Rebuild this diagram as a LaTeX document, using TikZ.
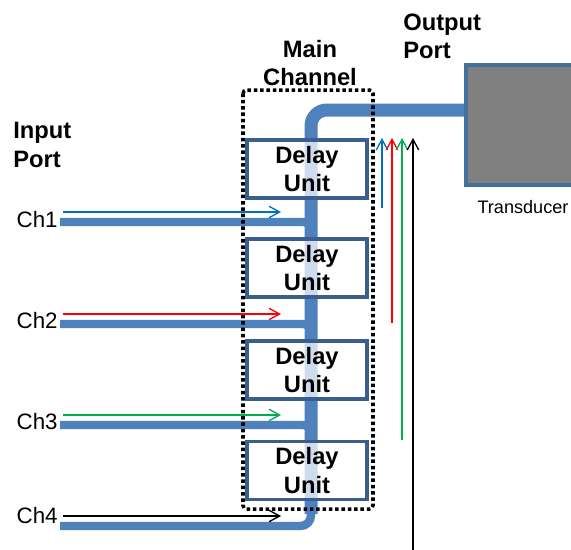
\documentclass[tikz,border=0pt]{standalone}
\usepackage{fontspec}
\setmainfont{Liberation Sans}
\usetikzlibrary{arrows.meta}
\definecolor{pipeblue}{RGB}{79,129,189}
\definecolor{boxblue}{RGB}{58,95,140}
\definecolor{tdgray}{RGB}{128,128,128}
\definecolor{tdblue}{RGB}{65,113,156}
\definecolor{sigblue}{RGB}{0,112,192}
\definecolor{sigred}{RGB}{255,0,0}
\definecolor{siggreen}{RGB}{0,176,80}

\tikzset{
  pipe/.style={draw=pipeblue, line width=4.8pt, rounded corners=4.5pt},
  mainpipe/.style={draw=pipeblue, line width=7.4pt, rounded corners=9pt},
  delaybox/.style={draw=boxblue, line width=2pt, fill=white, fill opacity=0.72,
    text opacity=1, minimum width=2.4cm, minimum height=1.16cm, align=center,
    font=\fontsize{13.5}{16}\selectfont\bfseries},
  tdbox/.style={draw=tdblue, line width=2pt, fill=tdgray,
    minimum width=2.28cm, minimum height=2.4cm},
  portlabel/.style={inner sep=0pt, align=left, font=\fontsize{13.5}{16}\selectfont\bfseries},
  chlabel/.style={inner sep=0pt, anchor=east, font=\fontsize{12.7}{15}\selectfont},
  sig/.style={line width=0.75pt, -{Straight Barb[length=6pt,width=6.5pt]}},
  chanbox/.style={draw=black, line width=2pt, dash pattern=on 2pt off 1.6pt, rounded corners=2pt}
}

\begin{document}
\begin{tikzpicture}[x=0.02cm, y=-0.02cm]

\useasboundingbox (0,0) rectangle (571,549);

% Input channels 1-3
\foreach \i/\py/\ly in {1/222/220, 2/324/321, 3/425/422} {
    \node[chlabel] (ch\i) at (58,\ly) {Ch\i};
    \coordinate (pin\i) at (60,\py);
    \coordinate (pjoin\i) at (311,\py+16);
    \draw[pipe] (pin\i) -| (pjoin\i);
}

% Input channel 4 turns up into the main channel
\node[chlabel] (ch4) at (58,516) {Ch4};
\coordinate (pin4) at (60,526);
\coordinate (pjoin4) at (311,500);
\draw[pipe, rounded corners=6pt] (pin4) -| (pjoin4);

% Main channel to the transducer
\coordinate (pbot) at (311,514);
\coordinate (pout) at (468,110);
\draw[mainpipe] (pbot) |- (pout);
\node[tdbox] (td) at (523,125) {};
\node[font=\fontsize{10.3}{12}\selectfont] (tdlabel) at (523,207) {Transducer};

% Delay units
\foreach \i/\y in {1/169, 2/268, 3/370, 4/470.5} {
    \node[delaybox] (du\i) at (307,\y) {Delay\\Unit};
}

% Main channel frame
\draw[chanbox] (243,90) rectangle (373,509);

% Signal arrows into the main channel
\foreach \i/\ay/\c in {1/212/sigblue, 2/314/sigred, 3/415/siggreen, 4/516/black} {
    \coordinate (sin\i) at (63,\ay);
    \coordinate (sout\i) at (281,\ay);
    \draw[sig, \c] (sin\i) -- (sout\i);
}

% Signals at the output
\foreach \i/\x/\y/\c in {1/382/208/sigblue, 2/392/323/sigred, 3/402/440/siggreen, 4/413/552/black} {
    \coordinate (olow\i) at (\x,\y);
    \coordinate (otop\i) at (\x,138);
    \draw[sig, \c] (olow\i) -- (otop\i);
}

% Labels
\node[portlabel, align=center] (mainlabel) at (310,63) {Main\\Channel};
\node[portlabel, anchor=west] (outlabel) at (403,36) {Output\\Port};
\node[portlabel, anchor=west] (inlabel) at (13,145) {Input\\Port};

\end{tikzpicture}
\end{document}
